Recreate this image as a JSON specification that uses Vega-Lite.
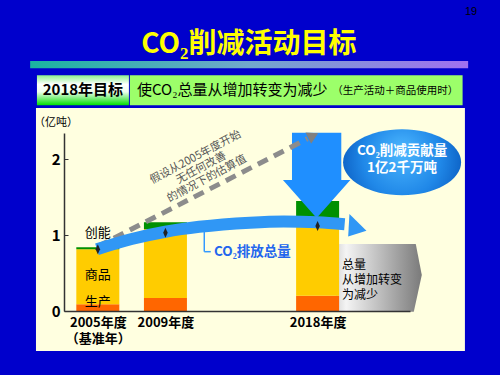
{
  "$schema": "https://vega.github.io/schema/vega-lite/v6.json",
  "width": 346,
  "height": 178,
  "autosize": {"type": "none"},
  "padding": {"left": 64, "top": 133, "right": 90, "bottom": 64},
  "background": "#0000CC",
  "config": {"font": "Noto Sans CJK SC", "view": {"stroke": null}, "axis": {"grid": false, "zindex": 1}},
  "datasets": {
    "bars": [
      {"year": 2005, "category": "生产", "value": 0.09},
      {"year": 2005, "category": "商品", "value": 0.725},
      {"year": 2005, "category": "创能", "value": 0.025},
      {"year": 2009, "category": "生产", "value": 0.17},
      {"year": 2009, "category": "商品", "value": 0.91},
      {"year": 2009, "category": "创能", "value": 0.09},
      {"year": 2018, "category": "生产", "value": 0.2},
      {"year": 2018, "category": "商品", "value": 1.02},
      {"year": 2018, "category": "创能", "value": 0.23}
    ],
    "emission": [
      {"year": 2004.95, "value": 0.815},
      {"year": 2007, "value": 0.95},
      {"year": 2009, "value": 1.045},
      {"year": 2011, "value": 1.11},
      {"year": 2014, "value": 1.165},
      {"year": 2016, "value": 1.18},
      {"year": 2018, "value": 1.17},
      {"year": 2019.6, "value": 1.145}
    ],
    "markers": [
      {"year": 2005, "value": 0.813},
      {"year": 2009, "value": 1.032},
      {"year": 2018, "value": 1.12}
    ],
    "estimate": [
      {"year": 2005, "value": 0.85},
      {"year": 2017.4, "value": 2.272}
    ]
  },
  "layer": [
    {
      "data": {"values": [{}]},
      "mark": {"type": "rect", "fill": "#FFFFE0"},
      "encoding": {
        "x": {"datum": 2001.343, "type": "quantitative", "scale": {"domain": [2003.296, 2023.169], "nice": false, "zero": false}},
        "x2": {"datum": 2026.713},
        "y": {"datum": 2.676, "type": "quantitative", "scale": {"domain": [0, 2.347], "nice": false, "zero": false}},
        "y2": {"datum": -0.527}
      }
    },
    {
      "data": {"values": [{}]},
      "mark": {"type": "rect", "fill": {"gradient": "linear", "x1": 0, "y1": 0, "x2": 1, "y2": 0, "stops": [{"offset": 0, "color": "#1AB4A0"}, {"offset": 0.5, "color": "#72A8CC"}, {"offset": 1, "color": "#A070F0"}]}},
      "encoding": {
        "x": {"datum": 2000.998, "type": "quantitative"},
        "x2": {"datum": 2026.903},
        "y": {"datum": 3.296, "type": "quantitative"},
        "y2": {"datum": 3.2}
      }
    },
    {
      "data": {"values": [{}]},
      "mark": {"type": "rect", "fill": {"gradient": "linear", "x1": 0, "y1": 0, "x2": 0, "y2": 1, "stops": [{"offset": 0, "color": "#8EF08E"}, {"offset": 0.3, "color": "#FFFFFF"}, {"offset": 0.55, "color": "#EEFFEE"}, {"offset": 1, "color": "#00DD00"}]}},
      "encoding": {
        "x": {"datum": 2001.4, "type": "quantitative"},
        "x2": {"datum": 2006.84},
        "y": {"datum": 3.107, "type": "quantitative"},
        "y2": {"datum": 2.712}
      }
    },
    {
      "data": {"values": [{}]},
      "mark": {"type": "rect", "fill": "#9CFF6A"},
      "encoding": {
        "x": {"datum": 2006.897, "type": "quantitative"},
        "x2": {"datum": 2026.576},
        "y": {"datum": 3.107, "type": "quantitative"},
        "y2": {"datum": 2.712}
      }
    },
    {
      "data": {"values": [{}]},
      "mark": {"type": "text", "text": "CO₂削减活动目标", "fontSize": 28, "fontWeight": "bold", "color": "#FFFF00", "align": "center", "baseline": "middle"},
      "encoding": {
        "x": {"datum": 2013.933, "type": "quantitative"},
        "y": {"datum": 3.507, "type": "quantitative"}
      }
    },
    {
      "data": {"values": [{}]},
      "mark": {"type": "text", "text": "19", "fontSize": 11, "color": "#000000", "align": "center", "baseline": "middle", "font": "Liberation Sans"},
      "encoding": {
        "x": {"datum": 2027.075, "type": "quantitative"},
        "y": {"datum": 3.938, "type": "quantitative"}
      }
    },
    {
      "data": {"values": [{}]},
      "mark": {"type": "text", "text": "2018年目标", "fontSize": 15, "fontWeight": "bold", "color": "#000000", "align": "center", "baseline": "middle"},
      "encoding": {
        "x": {"datum": 2004.117, "type": "quantitative"},
        "y": {"datum": 2.91, "type": "quantitative"}
      }
    },
    {
      "data": {"values": [{}]},
      "mark": {"type": "text", "text": "使CO₂总量从增加转变为减少", "fontSize": 15, "color": "#000000", "align": "left", "baseline": "middle"},
      "encoding": {
        "x": {"datum": 2007.317, "type": "quantitative"},
        "y": {"datum": 2.91, "type": "quantitative"}
      }
    },
    {
      "data": {"values": [{}]},
      "mark": {"type": "text", "text": "（生产活动＋商品使用时）", "fontSize": 10.5, "color": "#000000", "align": "left", "baseline": "middle"},
      "encoding": {
        "x": {"datum": 2018.862, "type": "quantitative"},
        "y": {"datum": 2.905, "type": "quantitative"}
      }
    },
    {
      "data": {"values": [{}]},
      "mark": {"type": "text", "text": "（亿吨）", "fontSize": 11, "color": "#000000", "align": "center", "baseline": "middle"},
      "encoding": {
        "x": {"datum": 2002.52, "type": "quantitative"},
        "y": {"datum": 2.475, "type": "quantitative"}
      }
    },
    {
      "data": {"values": [{}]},
      "mark": {"type": "point", "shape": "M-1,-0.787L0.86,-0.787L1,-0.066L0.814,0.787L-1,0.787Z", "size": 7396, "filled": true, "opacity": 1, "strokeWidth": 0, "fill": {"gradient": "linear", "x1": 0, "y1": 0, "x2": 1, "y2": 0, "stops": [{"offset": 0, "color": "#D8D8D8"}, {"offset": 0.12, "color": "#F4F4F4"}, {"offset": 1, "color": "#7A7A7A"}]}},
      "encoding": {
        "x": {"datum": 2021.619, "type": "quantitative"},
        "y": {"datum": 0.437, "type": "quantitative"}
      }
    },
    {
      "data": {"name": "bars"},
      "mark": {"type": "bar", "width": 43},
      "encoding": {
        "x": {
          "field": "year", "type": "quantitative",
          "scale": {"domain": [2003.296, 2023.169], "nice": false, "zero": false},
          "axis": {"values": [2005, 2009, 2018], "title": null, "ticks": false, "domainColor": "#333333", "domainWidth": 1.5, "labelFontSize": 13, "labelFontWeight": "bold", "labelColor": "#000000", "labelPadding": 5, "labelLineHeight": 16, "labelFlush": false, "labelOverlap": false, "zindex": 1, "labelExpr": "datum.value == 2005 ? ['2005年度', '（基准年）'] : datum.value + '年度'"}
        },
        "y": {
          "field": "value", "type": "quantitative", "stack": "zero",
          "scale": {"domain": [0, 2.347], "nice": false, "zero": false},
          "axis": {"values": [0, 1, 2], "format": "d", "title": null, "domainColor": "#333333", "domainWidth": 1.5, "tickColor": "#333333", "tickSize": -4, "labelPadding": 8, "labelFontSize": 15, "labelFontWeight": "bold", "labelColor": "#000000", "labelFlush": false, "zindex": 1}
        },
        "color": {"field": "category", "type": "nominal", "scale": {"domain": ["生产", "商品", "创能"], "range": ["#FF6600", "#FFCC00", "#009000"]}, "legend": null},
        "order": {"field": "category", "type": "nominal", "sort": "descending"}
      }
    },
    {
      "data": {"values": [{}]},
      "mark": {"type": "point", "shape": "M-0.578,-1L0.578,-1L0.578,0.11L0.79,0.11L0,1L-0.79,0.11L-0.578,0.11Z", "size": 7276, "filled": true, "opacity": 1, "strokeWidth": 0, "fill": "#1F8FFF"},
      "encoding": {
        "x": {"datum": 2017.943, "type": "quantitative"},
        "y": {"datum": 1.789, "type": "quantitative"}
      }
    },
    {
      "data": {"name": "estimate"},
      "mark": {"type": "line", "strokeDash": [11, 7], "strokeWidth": 5, "color": "#8C8C8C", "strokeCap": "butt"},
      "encoding": {
        "x": {"field": "year", "type": "quantitative"},
        "y": {"field": "value", "type": "quantitative"}
      }
    },
    {
      "data": {"values": [{}]},
      "mark": {"type": "point", "shape": "triangle-up", "angle": 63.4, "size": 160, "filled": true, "opacity": 1, "strokeWidth": 0, "fill": "#808080"},
      "encoding": {
        "x": {"datum": 2017.74, "type": "quantitative"},
        "y": {"datum": 2.311, "type": "quantitative"}
      }
    },
    {
      "data": {"values": [{}]},
      "mark": {"type": "text", "text": "假设从2005年度开始\n无任何改善\n的情况下的估算值", "lineBreak": "\n", "angle": -28, "fontSize": 11, "lineHeight": 12.2, "color": "#555555", "align": "center", "baseline": "middle"},
      "encoding": {
        "x": {"datum": 2010.78, "type": "quantitative"},
        "y": {"datum": 2.025, "type": "quantitative"}
      }
    },
    {
      "data": {"name": "emission"},
      "mark": {"type": "line", "strokeWidth": 12, "color": "#3097F5", "interpolate": "monotone", "strokeCap": "butt"},
      "encoding": {
        "x": {"field": "year", "type": "quantitative"},
        "y": {"field": "value", "type": "quantitative"}
      }
    },
    {
      "data": {"values": [{}]},
      "mark": {"type": "point", "shape": "M-0.6,-0.85L0.76,0.5L-0.7,0.95Z", "size": 625, "filled": true, "opacity": 1, "strokeWidth": 0, "fill": "#3097F5"},
      "encoding": {
        "x": {"datum": 2020.326, "type": "quantitative"},
        "y": {"datum": 1.14, "type": "quantitative"}
      }
    },
    {
      "data": {"name": "markers"},
      "mark": {"type": "point", "shape": "M0,-1L0.45,0L0,1L-0.45,0Z", "size": 100, "filled": true, "opacity": 1, "strokeWidth": 0, "fill": "#222222"},
      "encoding": {
        "x": {"field": "year", "type": "quantitative"},
        "y": {"field": "value", "type": "quantitative"}
      }
    },
    {
      "data": {"values": [{}]},
      "mark": {"type": "rule", "color": "#3399FF", "strokeWidth": 1.5},
      "encoding": {
        "x": {"datum": 2011.297, "type": "quantitative"},
        "y": {"datum": 1.045, "type": "quantitative"},
        "y2": {"datum": 0.782}
      }
    },
    {
      "data": {"values": [{}]},
      "mark": {"type": "rule", "color": "#3399FF", "strokeWidth": 1.5},
      "encoding": {
        "x": {"datum": 2011.297, "type": "quantitative"},
        "x2": {"datum": 2011.682},
        "y": {"datum": 0.782, "type": "quantitative"}
      }
    },
    {
      "data": {"values": [{}]},
      "mark": {"type": "text", "text": "CO₂排放总量", "fontSize": 13.5, "fontWeight": "bold", "color": "#2266EE", "align": "left", "baseline": "middle"},
      "encoding": {
        "x": {"datum": 2011.872, "type": "quantitative"},
        "y": {"datum": 0.782, "type": "quantitative"}
      }
    },
    {
      "data": {"values": [{}]},
      "mark": {"type": "text", "text": "创能", "fontSize": 13, "color": "#000000", "align": "center", "baseline": "middle"},
      "encoding": {
        "x": {"datum": 2005, "type": "quantitative"},
        "y": {"datum": 1.028, "type": "quantitative"}
      }
    },
    {
      "data": {"values": [{}]},
      "mark": {"type": "text", "text": "商品", "fontSize": 13, "color": "#000000", "align": "center", "baseline": "middle"},
      "encoding": {
        "x": {"datum": 2005, "type": "quantitative"},
        "y": {"datum": 0.475, "type": "quantitative"}
      }
    },
    {
      "data": {"values": [{}]},
      "mark": {"type": "text", "text": "生产", "fontSize": 13, "color": "#000000", "align": "center", "baseline": "middle"},
      "encoding": {
        "x": {"datum": 2005, "type": "quantitative"},
        "y": {"datum": 0.123, "type": "quantitative"}
      }
    },
    {
      "data": {"values": [{}]},
      "mark": {"type": "point", "shape": "M-1,0C-1,-0.309 -0.552,-0.559 0,-0.559C0.552,-0.559 1,-0.309 1,0C1,0.309 0.552,0.559 0,0.559C-0.552,0.559 -1,0.309 -1,0Z", "size": 13924, "filled": true, "opacity": 1, "strokeWidth": 0, "fill": {"gradient": "radial", "x1": 0.5, "y1": 0.4, "r1": 0, "x2": 0.5, "y2": 0.5, "r2": 0.55, "stops": [{"offset": 0, "color": "#4DB8FF"}, {"offset": 0.6, "color": "#2088E8"}, {"offset": 1, "color": "#0A5CC0"}]}},
      "encoding": {
        "x": {"datum": 2022.997, "type": "quantitative"},
        "y": {"datum": 1.962, "type": "quantitative"}
      }
    },
    {
      "data": {"values": [{}]},
      "mark": {"type": "text", "text": "CO₂削减贡献量\n1亿2千万吨", "lineBreak": "\n", "fontSize": 13.5, "lineHeight": 17, "fontWeight": "bold", "color": "#FFFFFF", "align": "center", "baseline": "middle"},
      "encoding": {
        "x": {"datum": 2022.997, "type": "quantitative"},
        "y": {"datum": 2.105, "type": "quantitative"}
      }
    },
    {
      "data": {"values": [{}]},
      "mark": {"type": "text", "text": "总量\n从增加转变\n为减少", "lineBreak": "\n", "fontSize": 12, "lineHeight": 15, "color": "#000000", "align": "left", "baseline": "middle"},
      "encoding": {
        "x": {"datum": 2019.436, "type": "quantitative"},
        "y": {"datum": 0.612, "type": "quantitative"}
      }
    }
  ]
}
